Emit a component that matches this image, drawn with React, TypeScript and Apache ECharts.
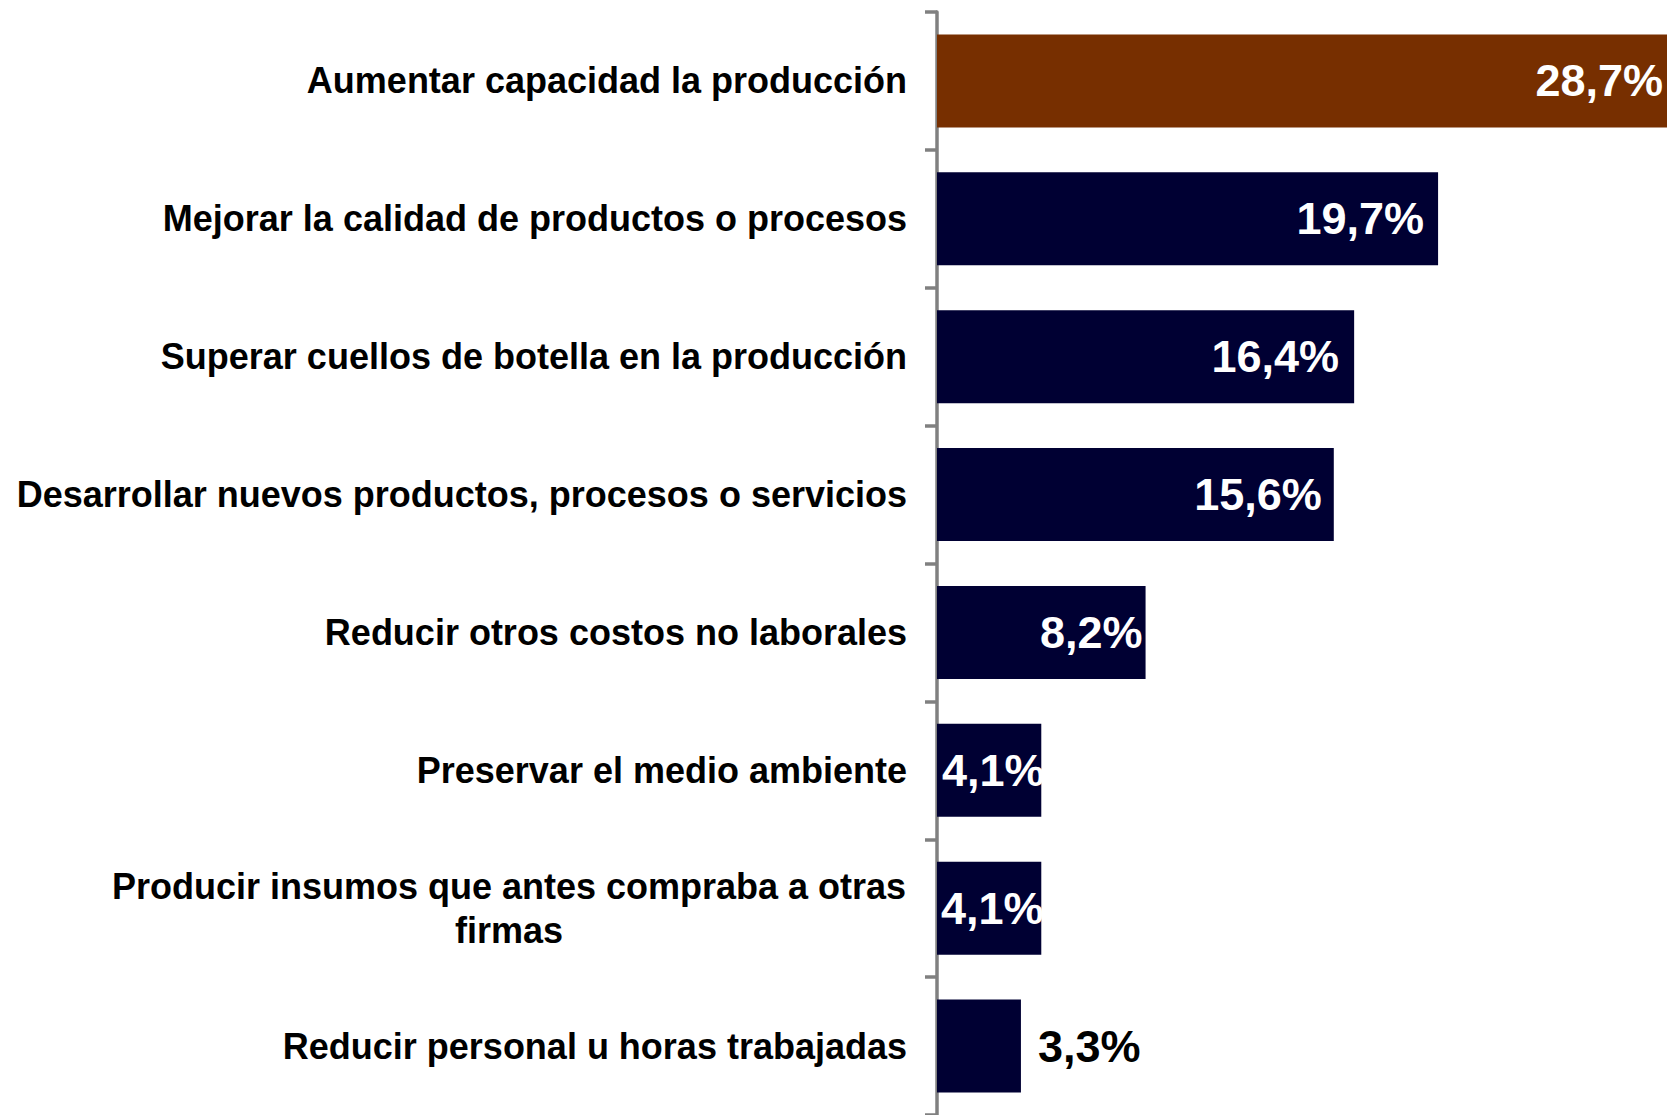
import React, { useEffect, useRef } from "react";
import * as echarts from "echarts";

const categories = [
  "Aumentar capacidad la producción",
  "Mejorar la calidad de productos o procesos",
  "Superar cuellos de botella en la producción",
  "Desarrollar nuevos productos, procesos o servicios",
  "Reducir otros costos no laborales",
  "Preservar el medio ambiente",
  "Producir insumos que antes compraba a otras\nfirmas",
  "Reducir personal u horas trabajadas",
];
const values = [28.7, 19.7, 16.4, 15.6, 8.2, 4.1, 4.1, 3.3];
const valueLabels = ["28,7%", "19,7%", "16,4%", "15,6%", "8,2%", "4,1%", "4,1%", "3,3%"];

const labelInset = [4, 14, 15, 12, 3, 5, 4, 17];
const BROWN = "#772F00";
const NAVY = "#000033";
const FONT = "'Liberation Sans', Arial, sans-serif";

export default function App() {
  const ref = useRef<HTMLDivElement>(null);
  useEffect(() => {
    if (!ref.current) return;
    const chart = echarts.init(ref.current, null, { renderer: "svg" });
    const data = values.map((v, i) => {
      let label: any;
      if (v < 3.5) {
        label = { position: "right", color: "#000", distance: labelInset[i] };
      } else if (v < 5) {
        label = { position: "insideLeft", color: "#fff", distance: labelInset[i] };
      } else {
        label = { position: "insideRight", color: "#fff", distance: labelInset[i] };
      }
      return {
        value: v,
        itemStyle: { color: i === 0 ? BROWN : NAVY },
        label,
      };
    });
    chart.setOption({
      animation: false,
      grid: { left: 937, right: 6, top: 12, height: 1104, containLabel: false },
      xAxis: {
        type: "value",
        min: 0,
        max: 28.7,
        show: false,
        splitLine: { show: false },
      },
      yAxis: {
        type: "category",
        data: categories,
        inverse: true,
        axisLine: { show: true, lineStyle: { color: "#808080", width: 3.5 } },
        axisTick: { show: true, length: 12, lineStyle: { color: "#808080", width: 3.5 } },
        axisLabel: {
          margin: 30,
          color: "#000",
          fontFamily: FONT,
          fontWeight: "bold",
          fontSize: 36,
          lineHeight: 44,
          formatter: (val: string) => {
            if (val.indexOf("\n") >= 0) {
              return val
                .split("\n")
                .map((l) => "{c|" + l + "}")
                .join("\n");
            }
            return val;
          },
          rich: {
            c: {
              width: 796,
              align: "center",
              color: "#000",
              fontFamily: FONT,
              fontWeight: "bold",
              fontSize: 36,
              lineHeight: 44,
            },
          },
        },
      },
      series: [
        {
          type: "bar",
          data,
          barWidth: "67.4%",
          label: {
            show: true,
            fontFamily: FONT,
            fontWeight: "bold",
            fontSize: 45,
            formatter: (p: any) => valueLabels[p.dataIndex],
          },
        },
      ],
    });
    return () => chart.dispose();
  }, []);
  return (
    <div
      ref={ref}
      style={{ position: "absolute", left: 0, top: 0, width: 1673, height: 1115, background: "#fff" }}
    />
  );
}
